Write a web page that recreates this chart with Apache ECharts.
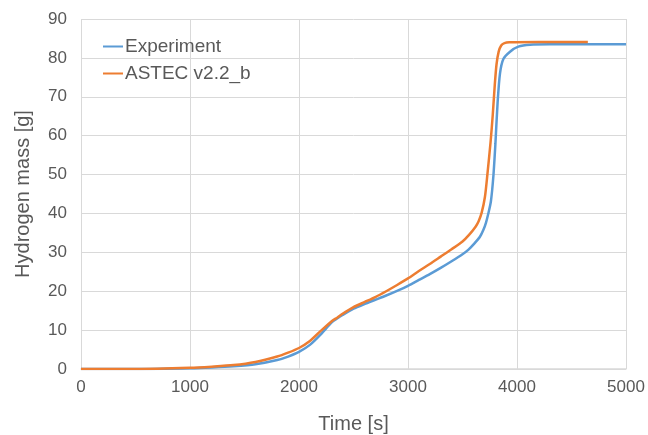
<!DOCTYPE html>
<html>
<head>
<meta charset="utf-8">
<script src="https://cdn.jsdelivr.net/npm/echarts@6/dist/echarts.min.js"></script>
<style>html,body{margin:0;padding:0;background:#fff}#c{width:648px;height:435px}</style>
</head>
<body>
<div id="c"></div>
<script>
const seriesNames = ["Experiment", "ASTEC v2.2_b"];
const expTime = [0, 500, 1000, 1200, 1400, 1600, 1800, 1900, 2000, 2100, 2200, 2300, 2350, 2400, 2500, 2600, 2700, 2800, 2900, 3000, 3100, 3200, 3300, 3400, 3500, 3555, 3610, 3660, 3692, 3715, 3737, 3760, 3783, 3802, 3822, 3844, 3875, 3936, 4012, 4120, 4300, 5000];
const expMass = [0, 0, 0.2, 0.4, 0.7, 1.2, 2.3, 3.2, 4.4, 6.2, 8.9, 12.0, 13.0, 13.9, 15.5, 16.7, 17.8, 18.9, 20.1, 21.4, 22.9, 24.4, 26.0, 27.7, 29.5, 30.7, 32.3, 34.0, 35.8, 37.6, 40.0, 43.0, 49.5, 58.0, 68.5, 76.0, 79.7, 81.6, 82.9, 83.4, 83.5, 83.5];
const astecTime = [0, 500, 1000, 1200, 1400, 1600, 1800, 1900, 2000, 2100, 2200, 2300, 2350, 2400, 2500, 2600, 2700, 2800, 2900, 3000, 3100, 3200, 3300, 3400, 3500, 3560, 3620, 3648, 3676, 3706, 3728, 3758, 3778, 3796, 3812, 3832, 3855, 3885, 3930, 4200, 4650];
const astecMass = [0, 0, 0.3, 0.6, 1.0, 1.8, 3.2, 4.2, 5.4, 7.2, 9.8, 12.3, 13.2, 14.2, 15.9, 17.2, 18.5, 20.0, 21.6, 23.3, 25.2, 27.0, 28.9, 30.8, 32.8, 34.5, 36.6, 38.0, 40.2, 44.3, 49.9, 58.5, 65.5, 73.0, 78.3, 81.6, 83.2, 83.8, 84.0, 84.1, 84.1];
const xTicks = [0, 1000, 2000, 3000, 4000, 5000];
const yTicks = [0, 10, 20, 30, 40, 50, 60, 70, 80, 90];

const zip = (t, v) => t.map((x, i) => [x, v[i]]);
const font = '"Liberation Sans", Arial, sans-serif';
const txt = '#595959';
const chart = echarts.init(document.getElementById('c'));
chart.setOption({
  animation: false,
  grid: { left: 81, right: 22, top: 19, bottom: 66, containLabel: false, outerBoundsMode: 'none' },
  legend: {
    orient: 'vertical', left: 98, top: 32, itemGap: 8,
    icon: 'rect', itemWidth: 20, itemHeight: 2,
    textStyle: { fontFamily: font, fontSize: 19, color: txt, padding: [0, 0, 0, -3] },
    data: seriesNames
  },
  xAxis: {
    type: 'value', min: xTicks[0], max: xTicks[xTicks.length - 1], interval: 1000,
    name: 'Time [s]', nameLocation: 'middle', nameGap: 45,
    nameTextStyle: { fontFamily: font, fontSize: 20, color: txt },
    axisLine: { show: true, lineStyle: { color: '#d9d9d9', width: 1.5 } },
    axisTick: { show: false },
    axisLabel: { fontFamily: font, fontSize: 17, color: txt, margin: 10, formatter: v => String(v) },
    splitLine: { show: true, lineStyle: { color: '#d9d9d9', width: 1 } }
  },
  yAxis: {
    type: 'value', min: yTicks[0], max: yTicks[yTicks.length - 1], interval: 10,
    name: 'Hydrogen mass [g]', nameLocation: 'middle', nameGap: 48,
    nameTextStyle: { fontFamily: font, fontSize: 20, color: txt },
    axisLine: { show: false }, axisTick: { show: false },
    axisLabel: { fontFamily: font, fontSize: 17, color: txt, margin: 14, formatter: v => String(v) },
    splitLine: { show: true, lineStyle: { color: '#d9d9d9', width: 1 } }
  },
  series: [
    { name: seriesNames[0], type: 'line', data: zip(expTime, expMass), showSymbol: false, smooth: 0.25,
      lineStyle: { color: '#5B9BD5', width: 2.5 }, itemStyle: { color: '#5B9BD5' } },
    { name: seriesNames[1], type: 'line', data: zip(astecTime, astecMass), showSymbol: false, smooth: 0.25,
      lineStyle: { color: '#ED7D31', width: 2.5 }, itemStyle: { color: '#ED7D31' } }
  ]
});
</script>
</body>
</html>
